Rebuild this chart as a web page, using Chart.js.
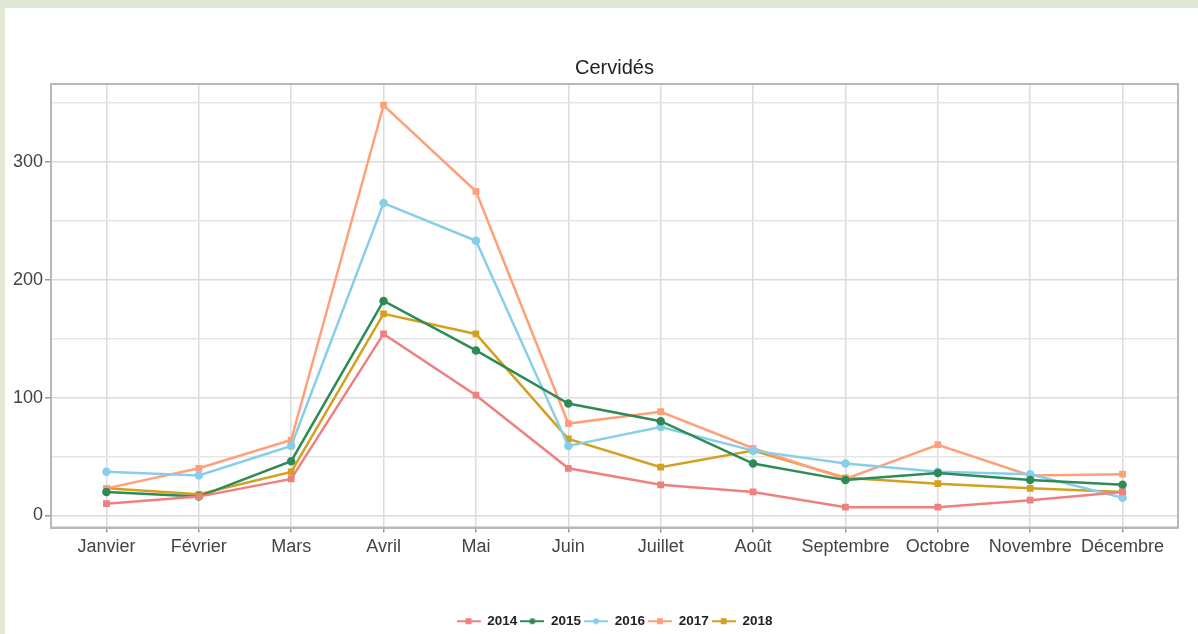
<!DOCTYPE html>
<html>
<head>
<meta charset="utf-8">
<script src="https://cdn.jsdelivr.net/npm/chart.js@4.4.1/dist/chart.umd.min.js"></script>
<style>
html, body { margin: 0; padding: 0; background: #e1e8d5; overflow: hidden; }
#panel { position: absolute; left: 5px; top: 8px; right: 0; bottom: 0; background: #fff; }
#wrap { position: absolute; left: 0; top: 0; width: 1198px; height: 638px; }
</style>
</head>
<body>
<div id="panel"></div>
<div id="wrap"><canvas id="chart"></canvas></div>
<script>
// DATA
const months = ['Janvier', 'Février', 'Mars', 'Avril', 'Mai', 'Juin', 'Juillet', 'Août', 'Septembre', 'Octobre', 'Novembre', 'Décembre'];
const years = ['2014', '2015', '2016', '2017', '2018'];
const y2014 = [10, 16, 31, 154, 102, 40, 26, 20, 7, 7, 13, 20];
const y2015 = [20, 16, 46, 182, 140, 95, 80, 44, 30, 36, 30, 26];
const y2016 = [37, 34, 59, 265, 233, 59, 75, 55, 44, 37, 35, 15];
const y2017 = [23, 40, 64, 348, 275, 78, 88, 57, 31, 60, 34, 35];
const y2018 = [23, 18, 37, 171, 154, 65, 41, 55, 32, 27, 23, 20];
const yTicks = [0, 100, 200, 300];

const colors = ['#f08080', '#2e8b57', '#87ceeb', '#ffa07a', '#d4a020'];
const markers = ['rect', 'circle', 'circle', 'rect', 'rect'];
const series = [y2014, y2015, y2016, y2017, y2018];

// little line+marker icon for the legend
function legendIcon(color, shape) {
    const c = document.createElement('canvas');
    c.width = 24; c.height = 8;
    const g = c.getContext('2d');
    g.strokeStyle = color;
    g.lineWidth = 2;
    g.beginPath(); g.moveTo(0, 4); g.lineTo(24, 4); g.stroke();
    g.fillStyle = color;
    if (shape === 'circle') {
        g.beginPath(); g.arc(12, 4, 3, 0, Math.PI * 2); g.fill();
    } else {
        g.fillRect(9, 1, 6, 6);
    }
    return c;
}
const icons = colors.map((c, i) => legendIcon(c, markers[i]));

const datasets = series.map((vals, i) => ({
    label: years[i],
    data: vals.map((v, j) => ({ x: j, y: v })),
    borderColor: colors[i],
    backgroundColor: colors[i],
    borderWidth: 2.5,
    pointStyle: markers[i],
    pointRadius: 3,
    pointHoverRadius: 3,
    tension: 0
}));

// frame around the plot panel
const frame = {
    id: 'frame',
    afterDraw(chart) {
        const a = chart.chartArea, g = chart.ctx;
        g.save();
        g.strokeStyle = '#b8b8b8';
        g.lineWidth = 2;
        g.strokeRect(a.left, a.top, a.right - a.left, a.bottom - a.top);
        g.restore();
    }
};

const tickFont = { family: '"Liberation Sans", Arial, sans-serif', size: 18 };

const ctx = document.getElementById('chart').getContext('2d');
const chart = new Chart(ctx, {
    type: 'line',
    data: { datasets: datasets },
    options: {
        responsive: true,
        maintainAspectRatio: false,
        animation: false,
        layout: { padding: { left: 0, right: 20, top: 0, bottom: 0 } },
        scales: {
            x: {
                type: 'linear',
                min: -0.6,
                max: 11.6,
                afterFit(scale) { scale.height = 84; },
                ticks: {
                    stepSize: 1,
                    includeBounds: false,
                    autoSkip: false,
                    maxRotation: 0,
                    padding: 4,
                    color: '#444',
                    font: tickFont,
                    callback: v => months[v] || ''
                },
                grid: { color: '#dcdcdc', lineWidth: 1.5, tickLength: 5, tickColor: '#999' },
                border: { color: '#b8b8b8', width: 2 }
            },
            y: {
                min: -10.2,
                max: 366,
                afterFit(scale) { scale.width = 51; },
                ticks: {
                    stepSize: 50,
                    includeBounds: false,
                    padding: 2,
                    color: '#444',
                    font: tickFont,
                    callback: v => yTicks.includes(v) ? String(v) : ''
                },
                grid: {
                    color: c => (c.tick && c.tick.value % 100 === 0) ? '#dcdcdc' : '#e6e6e6',
                    lineWidth: 1.5,
                    tickLength: 6,
                    tickColor: c => (c.tick && c.tick.value % 100 === 0) ? '#999' : 'rgba(0,0,0,0)'
                },
                border: { color: '#b8b8b8', width: 2 }
            }
        },
        plugins: {
            // fullSize false: title and legend centre over the plot panel
            title: {
                display: true,
                fullSize: false,
                text: 'Cervidés',
                color: '#222',
                font: { family: '"Liberation Sans", Arial, sans-serif', size: 20, weight: 'normal' },
                padding: { top: 56, bottom: 4 }
            },
            legend: {
                position: 'bottom',
                fullSize: false,
                labels: {
                    usePointStyle: true,
                    pointStyleWidth: 24,
                    padding: 3,
                    color: '#222',
                    font: { family: '"Liberation Sans", Arial, sans-serif', size: 13.5, weight: 'bold' },
                    generateLabels(chart) {
                        const items = Chart.defaults.plugins.legend.labels.generateLabels(chart);
                        items.forEach((it, i) => { it.pointStyle = icons[i]; });
                        return items;
                    }
                }
            },
            tooltip: { enabled: false }
        }
    },
    plugins: [frame]
});
</script>
</body>
</html>
